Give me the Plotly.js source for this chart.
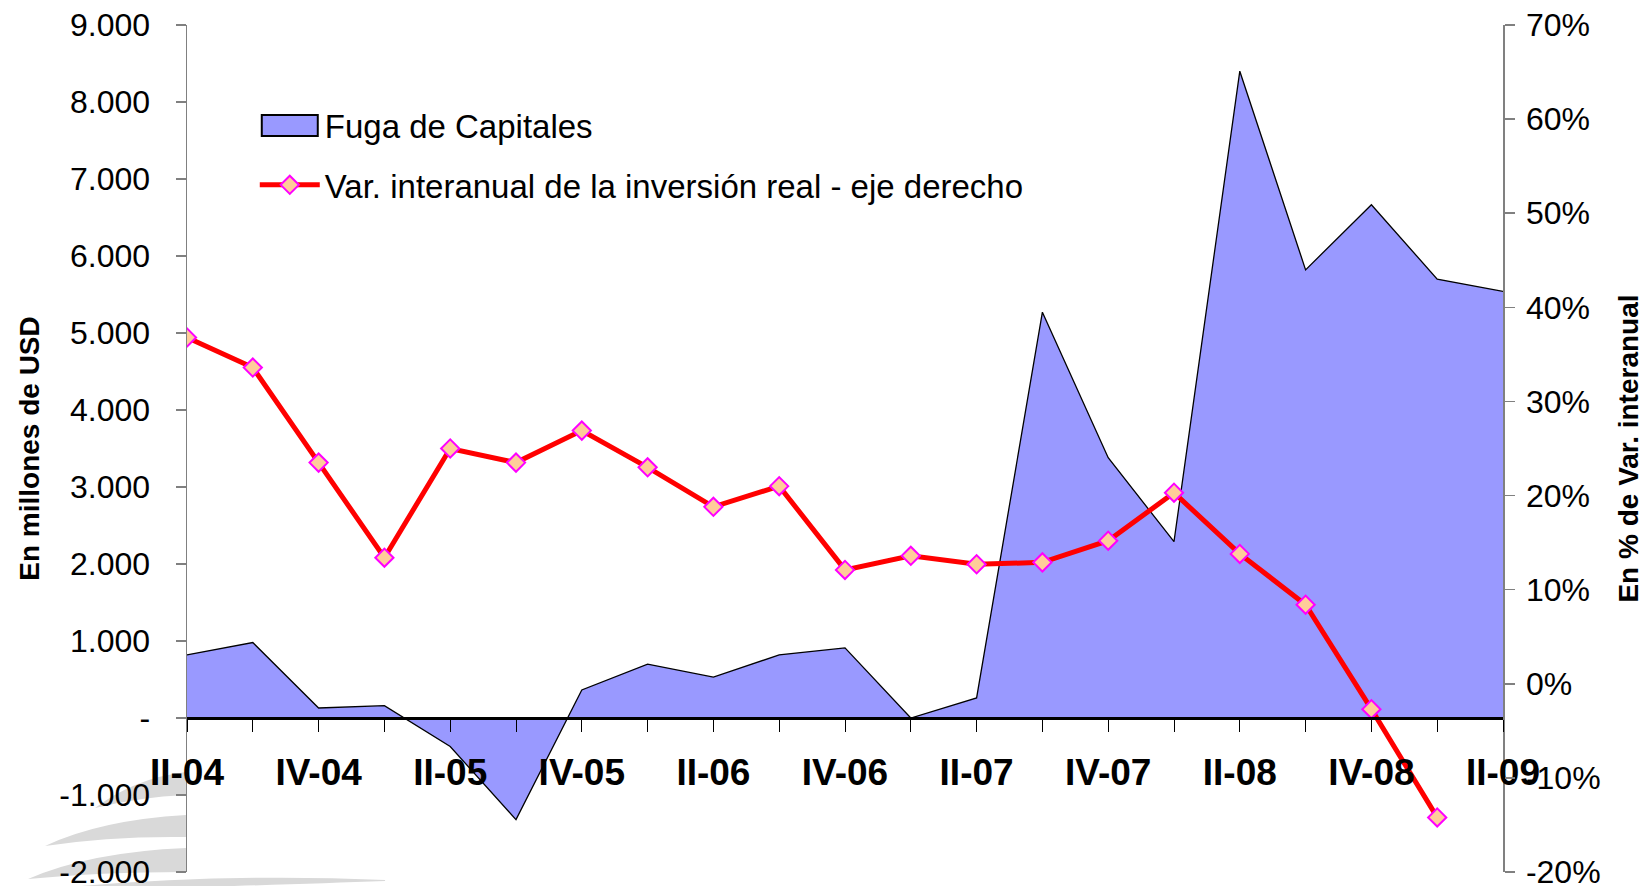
<!DOCTYPE html>
<html>
<head>
<meta charset="utf-8">
<script src="https://cdn.plot.ly/plotly-3.0.1.min.js"></script>
<style>html,body{margin:0;padding:0;background:#fff;}#chart{width:1644px;height:886px;}</style>
</head>
<body>
<div id="chart"></div>
<script>
// ---- data ----
const quarters = ["II-04","III-04","IV-04","I-05","II-05","III-05","IV-05","I-06","II-06","III-06","IV-06",
                  "I-07","II-07","III-07","IV-07","I-08","II-08","III-08","IV-08","I-09","II-09"];
// Fuga de Capitales, millones de USD
const fugaCapitales = [820, 980, 130, 160, -370, -1320, 365, 700, 530, 820, 910,
                       0, 260, 5270, 3380, 2290, 8400, 5820, 6665, 5700, 5540];
// Var. interanual de la inversión real (%)
const varInversion = [36.8, 33.6, 23.5, 13.4, 25.0, 23.5, 26.9, 23.0, 18.8, 21.0, 12.1,
                      13.6, 12.7, 12.9, 15.2, 20.3, 13.8, 8.4, -2.7, -14.2, null];
// axis tick labels
const leftTickVals = [-2000,-1000,0,1000,2000,3000,4000,5000,6000,7000,8000,9000];
const leftTickText = ["-2.000","-1.000","-","1.000","2.000","3.000","4.000","5.000","6.000","7.000","8.000","9.000"];
const rightTickVals = [-20,-10,0,10,20,30,40,50,60,70];
const rightTickText = ["-20%","-10%","0%","10%","20%","30%","40%","50%","60%","70%"];
const xTickText = quarters.map((q,i)=> i%2===0 ? q : "");

// ---- geometry helpers for decorative watermark ----
const W=1644,H=886, L=187, R=141, T=25, B=14;
const pw=W-L-R, ph=H-T-B;
function px(x){return ((x-L)/pw).toFixed(4);}
function py(y){return ((H-B-y)/ph).toFixed(4);}
function swoosh(tip, ctrlTop, endTop, endBot, ctrlBot){
  return `M${px(tip[0])},${py(tip[1])} Q${px(ctrlTop[0])},${py(ctrlTop[1])} ${px(endTop[0])},${py(endTop[1])} L${px(endBot[0])},${py(endBot[1])} Q${px(ctrlBot[0])},${py(ctrlBot[1])} ${px(tip[0])},${py(tip[1])} Z`;
}
const grey = '#d9d9d9';
const shapes = [
  {type:'path', xref:'paper', yref:'paper', layer:'below', fillcolor:grey, line:{width:0},
   path: swoosh([95,808],[135,778],[186,772],[186,795],[140,797])},
  {type:'path', xref:'paper', yref:'paper', layer:'below', fillcolor:grey, line:{width:0},
   path: swoosh([45,846],[100,820],[186,815],[186,837],[110,836])},
  {type:'path', xref:'paper', yref:'paper', layer:'below', fillcolor:grey, line:{width:0},
   path: swoosh([28,879],[90,852],[186,848],[186,872],[100,872])},
  {type:'path', xref:'paper', yref:'paper', layer:'below', fillcolor:grey, line:{width:0},
   path: swoosh([20,892],[200,872],[385,880],[385,881],[250,886])}
];

const font = 'Liberation Sans, Arial, sans-serif';

const traces = [
  {
    x: quarters, y: fugaCapitales, type:'scatter', mode:'lines',
    name:'Fuga de Capitales', fill:'tozeroy', fillcolor:'#9999FF',
    line:{color:'#000000', width:1.3}, xaxis:'x', yaxis:'y', legendgroup:'a'
  },
  {
    x: quarters, y: varInversion, type:'scatter', mode:'lines+markers',
    name:'Var. interanual de la inversión real - eje derecho',
    line:{color:'#FF0000', width:5},
    marker:{symbol:'diamond', size:14, color:'#FFCC99', line:{color:'#FF00FF', width:2}},
    xaxis:'x', yaxis:'y2', legendgroup:'b', connectgaps:false
  }
];

const layout = {
  width: W, height: H,
  margin:{l:L, r:R, t:T, b:B, pad:0},
  paper_bgcolor:'#ffffff', plot_bgcolor:'#ffffff',
  font:{family:font, size:32, color:'#000000'},
  showlegend:true,
  legend:{x:0.0515, y:0.915, xanchor:'left', yanchor:'top', bgcolor:'rgba(0,0,0,0)',
          font:{family:font, size:33, color:'#000'}, tracegroupgap:14, traceorder:'grouped', itemwidth:60},
  xaxis:{
    type:'category', range:[0,20], anchor:'free', position:2/11,
    tickmode:'array', tickvals:quarters, ticktext:xTickText,
    ticks:'outside', ticklen:12, tickcolor:'#000', tickwidth:1,
    showline:true, linecolor:'#000', linewidth:3,
    showgrid:false, zeroline:false,
    tickfont:{family:font, size:37, color:'#000', weight:'bold'},
    ticklabelstandoff:9
  },
  yaxis:{
    range:[-2000,9000], domain:[0,1],
    tickmode:'array', tickvals:leftTickVals, ticktext:leftTickText,
    ticks:'outside', ticklen:10, tickcolor:'#808080', tickwidth:1.5,
    showline:true, linecolor:'#808080', linewidth:1.5,
    showgrid:false, zeroline:false, ticklabeloverflow:'allow',
    tickfont:{family:font, size:32, color:'#000'},
    ticklabelstandoff:19,
    title:{text:'En millones de USD', font:{family:font, size:28, color:'#000', weight:'bold'}, standoff:11}
  },
  yaxis2:{
    range:[-20,70], overlaying:'y', side:'right', anchor:'x',
    tickmode:'array', tickvals:rightTickVals, ticktext:rightTickText,
    ticks:'outside', ticklen:10, tickcolor:'#808080', tickwidth:1.5,
    showline:true, linecolor:'#808080', linewidth:1.5,
    showgrid:false, zeroline:false, ticklabeloverflow:'allow',
    tickfont:{family:font, size:32, color:'#000'},
    ticklabelstandoff:5,
    title:{text:'En % de Var. interanual', font:{family:font, size:28, color:'#000', weight:'bold'}, standoff:27}
  },
  yaxis3:{
    range:[-20,70], overlaying:'y', side:'right', anchor:'x',
    tickmode:'array', tickvals:rightTickVals, ticktext:rightTickVals.map(()=>''),
    ticks:'inside', ticklen:10, tickcolor:'#808080', tickwidth:1.5,
    showline:false, showgrid:false, zeroline:false, showticklabels:false
  },
  shapes: shapes
};

const gd = document.getElementById('chart');
Plotly.newPlot(gd, traces, layout, {displayModeBar:false, staticPlot:true}).then(function(){
  // make the area legend symbol a bordered box like the original
  const items = gd.querySelectorAll('.legend .traces');
  if (!items.length) return;
  const first = items[0];
  const fill = first.querySelector('.legendfill path');
  const line = first.querySelector('.legendlines path');
  let x0 = 5, w = 50;
  if (line) {
    try { const bb = line.getBBox(); x0 = bb.x; w = bb.width; } catch(e) {}
    line.style.display = 'none';
  }
  x0 += 2; w -= 4;
  if (fill) {
    fill.setAttribute('d', `M${x0},-10h${w}v21h-${w}z`);
    fill.style.stroke = '#000';
    fill.style.strokeWidth = '2px';
    fill.style.fill = '#9999FF';
  }
});
</script>
</body>
</html>
